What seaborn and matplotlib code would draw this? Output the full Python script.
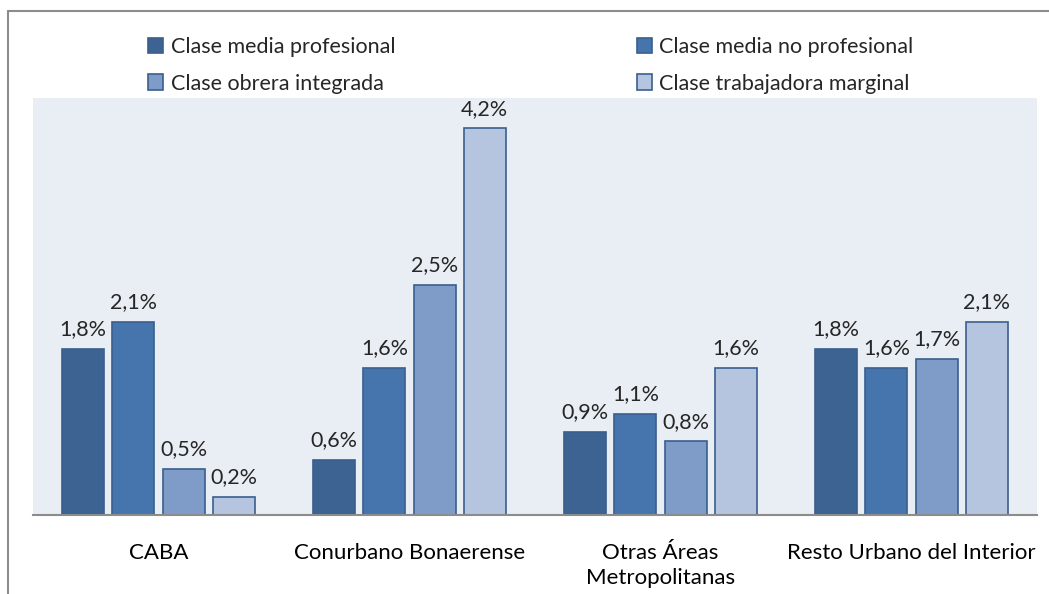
import matplotlib
matplotlib.use("Agg")
import matplotlib.pyplot as plt
import matplotlib.patches as mpatches
import seaborn as sns
import pandas as pd

# Data (%)
regiones = ["CABA", "Conurbano Bonaerense", "Otras Áreas\nMetropolitanas", "Resto Urbano del Interior"]
clases = ["Clase media profesional", "Clase media no profesional",
          "Clase obrera integrada", "Clase trabajadora marginal"]
media_profesional = [1.8, 0.6, 0.9, 1.8]
media_no_profesional = [2.1, 1.6, 1.1, 1.6]
obrera_integrada = [0.5, 2.5, 0.8, 1.7]
trabajadora_marginal = [0.2, 4.2, 1.6, 2.1]

colores = ["#3C6392", "#4675AE", "#7F9CC9", "#B5C5DF"]
borde = "#3A5F8E"

valores = [media_profesional, media_no_profesional, obrera_integrada, trabajadora_marginal]
rows = []
for clase, serie in zip(clases, valores):
    for region, v in zip(regiones, serie):
        rows.append({"region": region, "clase": clase, "valor": v})
df = pd.DataFrame(rows)

sns.set_style("white")
plt.rcParams["font.family"] = ["Lato", "DejaVu Sans"]

fig = plt.figure(figsize=(10.49, 5.94), dpi=100)
W, H = 1049, 594
ax = fig.add_axes([33 / W, (H - 515) / H, (1037 - 33) / W, (515 - 98) / H])

sns.barplot(data=df, x="region", y="valor", hue="clase", order=regiones,
            hue_order=clases, palette=colores, saturation=1, width=0.8, gap=0.16,
            edgecolor=borde, linewidth=1.2, legend=False, ax=ax)

ax.set_facecolor("#E9EDF4")
ax.set_xlim(-0.5, 3.5)
ax.set_ylim(0, 4.53)
ax.set_xlabel("")
ax.set_ylabel("")
ax.set_yticks([])
for s in ["top", "right", "left"]:
    ax.spines[s].set_visible(False)
ax.spines["bottom"].set_color("#8C8C8C")
ax.spines["bottom"].set_linewidth(1.5)
ax.tick_params(axis="x", length=0, pad=20, labelsize=16, colors="black")
for lbl in ax.get_xticklabels():
    lbl.set_linespacing(1.3)

for cont, serie in zip(ax.containers, valores):
    ax.bar_label(cont, labels=[f"{v:.1f}%".replace(".", ",") for v in serie],
                 padding=7, fontsize=15.5)

# legend: two columns above the plot area
handles = {c: mpatches.Patch(facecolor=col, edgecolor=borde, linewidth=1.2)
           for c, col in zip(clases, colores)}
orden = [clases[0], clases[2], clases[1], clases[3]]
fig.legend([handles[c] for c in orden], orden, ncol=2, loc="upper left",
           bbox_to_anchor=(129 / W, 1 - 18 / H), frameon=False, fontsize=15.5,
           handlelength=0.7, handleheight=0.7, handletextpad=0.35,
           columnspacing=11.2, labelspacing=0.75)

# outer chart frame
fig.add_artist(plt.Line2D([8 / W, 8 / W], [0, 1 - 11 / H], color="#8C8C8C",
                          lw=1.5, transform=fig.transFigure))
fig.add_artist(plt.Line2D([8 / W, 1], [1 - 11 / H, 1 - 11 / H], color="#8C8C8C",
                          lw=1.5, transform=fig.transFigure))

fig.savefig("out.png", dpi=100)
